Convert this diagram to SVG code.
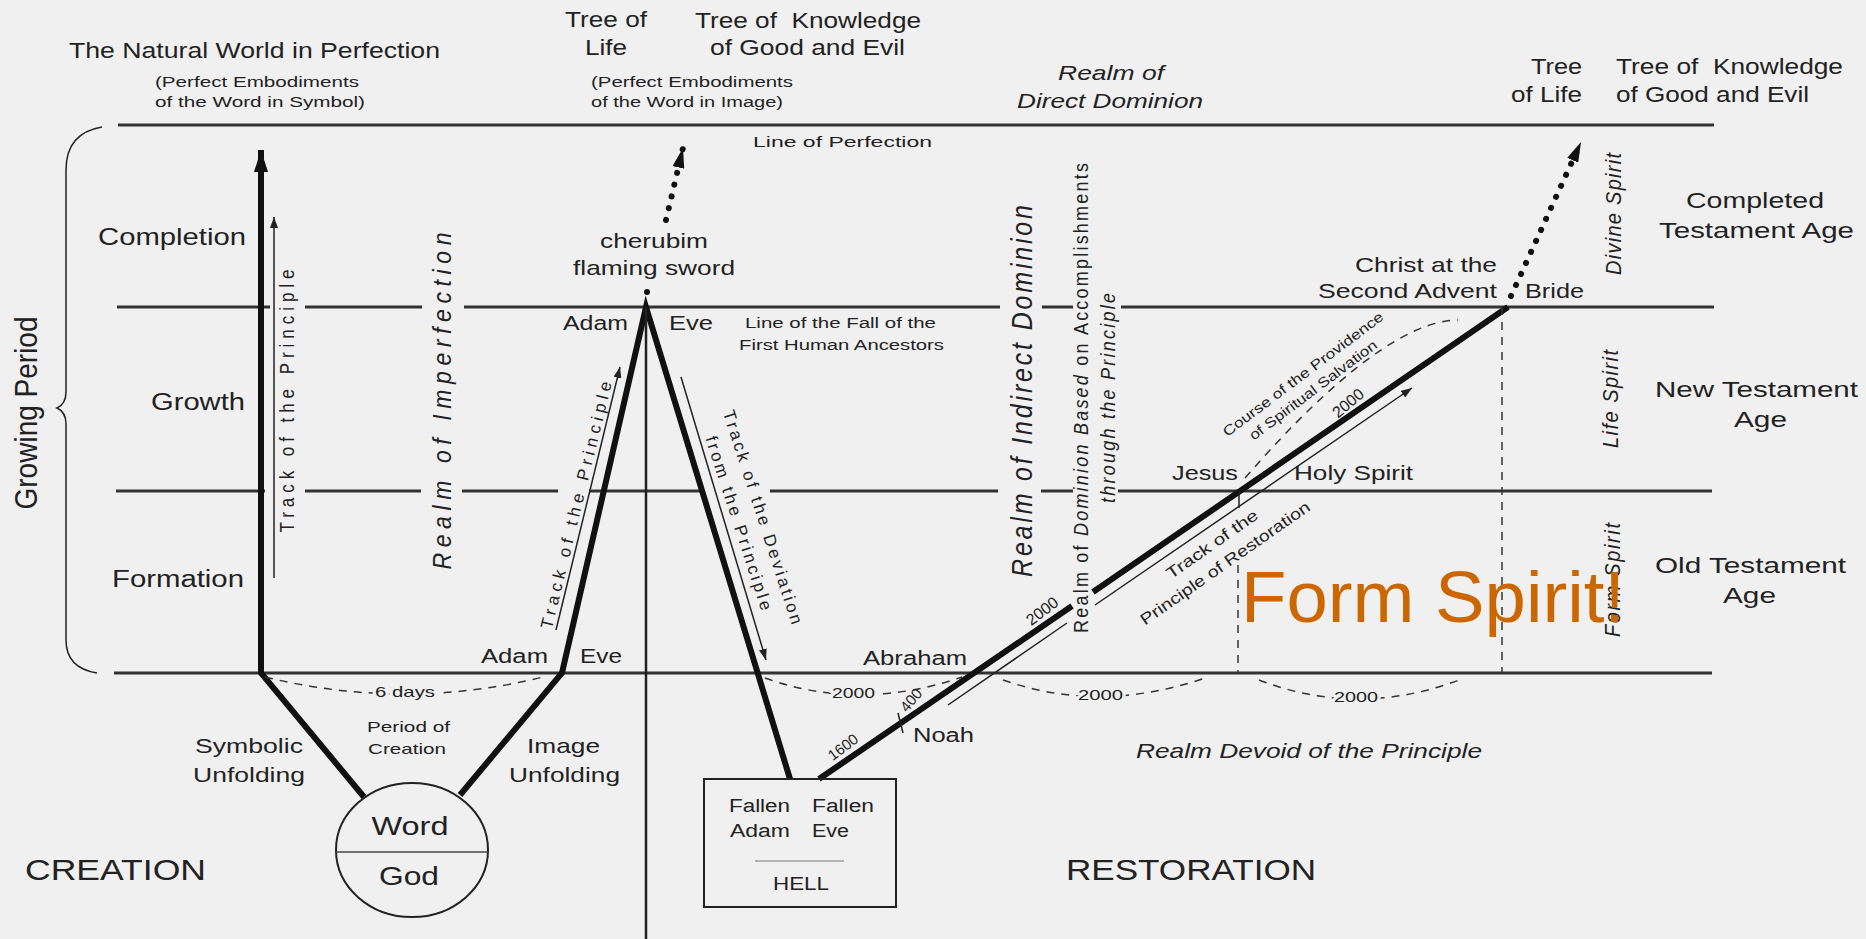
<svg xmlns="http://www.w3.org/2000/svg" width="1866" height="939" viewBox="0 0 1866 939">
<style>
.t{font-family:"Liberation Sans",Arial,Helvetica,sans-serif;fill:#222}
.i{font-style:italic}
.h{stroke:#333;stroke-width:3;fill:none}
.thick{stroke:#111;stroke-width:6;fill:none;stroke-linejoin:miter}
.thin{stroke:#222;stroke-width:1.5;fill:none}
.vline{stroke:#222;stroke-width:2.5;fill:none}
.dash{stroke:#333;stroke-width:1.5;fill:none;stroke-dasharray:8 7}
.dots{stroke:#111;stroke-width:6;stroke-linecap:round;stroke-dasharray:0.1 12;fill:none}
.mask{paint-order:stroke;stroke:#f0f0f0;stroke-width:5}
</style>
<defs>
<marker id="aThin" markerUnits="userSpaceOnUse" markerWidth="11" markerHeight="8" refX="11" refY="4" orient="auto"><path d="M0,0 L11,4 L0,8 z" fill="#222"/></marker>
<marker id="aBig" markerUnits="userSpaceOnUse" markerWidth="22" markerHeight="14" refX="22" refY="7" orient="auto"><path d="M0,0 L22,7 L0,14 z" fill="#111"/></marker>
<marker id="aDot" markerUnits="userSpaceOnUse" markerWidth="20" markerHeight="12" refX="20" refY="6" orient="auto"><path d="M0,0 L20,6 L0,12 z" fill="#111"/></marker>
</defs>
<rect width="1866" height="939" fill="#f0f0f0"/>

<g id="levels">
<path class="h" d="M118,125 H1714"/>
<path class="h" d="M117,307 H270 M305,307 H422 M464,307 H1000 M1042,307 H1073 M1121,307 H1714"/>
<path class="h" d="M116,491 H265 M305,491 H421 M462,491 H558 M589,491 H704 M770,491 H998 M1041,491 H1073 M1118,491 H1712"/>
<path class="h" d="M114,673 H1712"/>
<path class="thin" d="M102,127 Q66,133 66,170 L66,392 Q66,404 57,408 Q66,412 66,424 L66,640 Q66,668 97,673"/>
</g>

<g id="connectors">
<path class="thick" d="M364,797 L261,673 L261,150" marker-end="url(#aBig)"/>
<path class="thick" d="M460,795 L562,673 L646,307 L790,779"/>
<path class="thick" d="M819,779 L1072,606 M1093,592 L1508,307"/>
<path class="vline" d="M646,307 V939"/>
<path class="thin" d="M274,578 V217" marker-end="url(#aThin)"/>
<path class="thin" d="M556,630 L620,367" marker-end="url(#aThin)"/>
<path class="thin" d="M681,377 L766,660" marker-end="url(#aThin)"/>
<path class="thin" d="M948,705 L1067,623"/>
<path class="thin" d="M1095,605 L1412,388" marker-end="url(#aThin)"/>
<path class="dots" d="M647,292 L647,293"/>
<path class="dots" d="M666,220 L683,148" marker-end="url(#aDot)"/>
<path class="dots" d="M1511,296 L1581,142" marker-end="url(#aDot)"/>
<path class="dash" d="M265,677 Q405,711 543,677"/>
<path class="dash" d="M765,678 Q860,712 962,677"/>
<path class="dash" d="M1003,680 Q1100,714 1205,678"/>
<path class="dash" d="M1259,680 Q1358,718 1459,680"/>
<path class="dash" d="M1245,478 Q1382,321 1458,320"/>
<path class="dash" d="M1238,565 V673 M1502,307 V673"/>
<path class="thin" d="M1239,491 V508 M898,713 L903,733"/>
</g>

<g id="word-god">
<ellipse cx="412" cy="850" rx="76" ry="67" fill="none" stroke="#222" stroke-width="2"/>
<path d="M336,852 H488" stroke="#444" stroke-width="1.5"/>
<text class="t" x="410" y="835" font-size="25" text-anchor="middle" textLength="77" lengthAdjust="spacingAndGlyphs">Word</text>
<text class="t" x="409" y="885" font-size="25" text-anchor="middle" textLength="60" lengthAdjust="spacingAndGlyphs">God</text>
</g>

<g id="hell">
<rect x="704" y="779" width="192" height="128" fill="none" stroke="#222" stroke-width="2"/>
<path d="M755,861 H844" stroke="#777" stroke-width="1.2"/>
<text class="t" x="729" y="812" font-size="18" textLength="61" lengthAdjust="spacingAndGlyphs">Fallen</text>
<text class="t" x="812" y="812" font-size="18" textLength="62" lengthAdjust="spacingAndGlyphs">Fallen</text>
<text class="t" x="730" y="837" font-size="18" textLength="60" lengthAdjust="spacingAndGlyphs">Adam</text>
<text class="t" x="812" y="837" font-size="18" textLength="37" lengthAdjust="spacingAndGlyphs">Eve</text>
<text class="t" x="773" y="890" font-size="18" textLength="56" lengthAdjust="spacingAndGlyphs">HELL</text>
</g>

<g id="labels">
<text class="t" x="69" y="58" font-size="22" textLength="371" lengthAdjust="spacingAndGlyphs">The Natural World in Perfection</text>
<text class="t" x="155" y="87" font-size="14" textLength="204" lengthAdjust="spacingAndGlyphs">(Perfect Embodiments</text>
<text class="t" x="155" y="107" font-size="14" textLength="210" lengthAdjust="spacingAndGlyphs">of the Word in Symbol)</text>
<text class="t" x="565" y="27" font-size="22" textLength="82" lengthAdjust="spacingAndGlyphs">Tree of</text>
<text class="t" x="585" y="55" font-size="22" textLength="42" lengthAdjust="spacingAndGlyphs">Life</text>
<text class="t" x="695" y="28" font-size="22" textLength="226" lengthAdjust="spacingAndGlyphs" xml:space="preserve">Tree of  Knowledge</text>
<text class="t" x="710" y="55" font-size="22" textLength="195" lengthAdjust="spacingAndGlyphs">of Good and Evil</text>
<text class="t" x="591" y="87" font-size="14" textLength="202" lengthAdjust="spacingAndGlyphs">(Perfect Embodiments</text>
<text class="t" x="591" y="107" font-size="14" textLength="192" lengthAdjust="spacingAndGlyphs">of the Word in Image)</text>
<text class="t i" x="1058" y="80" font-size="21" textLength="106" lengthAdjust="spacingAndGlyphs">Realm of</text>
<text class="t i" x="1017" y="108" font-size="21" textLength="186" lengthAdjust="spacingAndGlyphs">Direct Dominion</text>
<text class="t" x="1531" y="74" font-size="22" textLength="51" lengthAdjust="spacingAndGlyphs">Tree</text>
<text class="t" x="1511" y="102" font-size="22" textLength="71" lengthAdjust="spacingAndGlyphs">of Life</text>
<text class="t" x="1616" y="74" font-size="22" textLength="227" lengthAdjust="spacingAndGlyphs" xml:space="preserve">Tree of  Knowledge</text>
<text class="t" x="1616" y="102" font-size="22" textLength="193" lengthAdjust="spacingAndGlyphs">of Good and Evil</text>
<text class="t" x="753" y="147" font-size="14" textLength="179" lengthAdjust="spacingAndGlyphs">Line of Perfection</text>
<text class="t" x="98" y="245" font-size="24" textLength="148" lengthAdjust="spacingAndGlyphs">Completion</text>
<text class="t" x="600" y="248" font-size="21" textLength="108" lengthAdjust="spacingAndGlyphs">cherubim</text>
<text class="t" x="573" y="275" font-size="21" textLength="162" lengthAdjust="spacingAndGlyphs">flaming sword</text>
<text class="t" x="1686" y="208" font-size="22" textLength="138" lengthAdjust="spacingAndGlyphs">Completed</text>
<text class="t" x="1659" y="238" font-size="22" textLength="195" lengthAdjust="spacingAndGlyphs">Testament Age</text>
<text class="t" x="1355" y="272" font-size="21" textLength="142" lengthAdjust="spacingAndGlyphs">Christ at the</text>
<text class="t" x="1318" y="298" font-size="21" textLength="179" lengthAdjust="spacingAndGlyphs">Second Advent</text>
<text class="t" x="1525" y="298" font-size="21" textLength="59" lengthAdjust="spacingAndGlyphs">Bride</text>
<text class="t" x="563" y="330" font-size="20" textLength="65" lengthAdjust="spacingAndGlyphs">Adam</text>
<text class="t" x="669" y="330" font-size="20" textLength="44" lengthAdjust="spacingAndGlyphs">Eve</text>
<text class="t" x="745" y="328" font-size="14" textLength="191" lengthAdjust="spacingAndGlyphs">Line of the Fall of the</text>
<text class="t" x="739" y="350" font-size="14" textLength="205" lengthAdjust="spacingAndGlyphs">First Human Ancestors</text>
<text class="t" x="151" y="410" font-size="23" textLength="94" lengthAdjust="spacingAndGlyphs">Growth</text>
<text class="t" x="1655" y="397" font-size="22" textLength="203" lengthAdjust="spacingAndGlyphs">New Testament</text>
<text class="t" x="1734" y="427" font-size="22" textLength="53" lengthAdjust="spacingAndGlyphs">Age</text>
<text class="t" x="1172" y="480" font-size="21" textLength="66" lengthAdjust="spacingAndGlyphs">Jesus</text>
<text class="t" x="1294" y="480" font-size="21" textLength="119" lengthAdjust="spacingAndGlyphs">Holy Spirit</text>
<text class="t" x="1655" y="573" font-size="22" textLength="191" lengthAdjust="spacingAndGlyphs">Old Testament</text>
<text class="t" x="1723" y="603" font-size="22" textLength="53" lengthAdjust="spacingAndGlyphs">Age</text>
<text class="t" x="112" y="587" font-size="23" textLength="132" lengthAdjust="spacingAndGlyphs">Formation</text>
<text class="t" x="481" y="663" font-size="20" textLength="67" lengthAdjust="spacingAndGlyphs">Adam</text>
<text class="t" x="580" y="663" font-size="20" textLength="42" lengthAdjust="spacingAndGlyphs">Eve</text>
<text class="t" x="863" y="665" font-size="20" textLength="104" lengthAdjust="spacingAndGlyphs">Abraham</text>
<text class="t mask" x="405" y="697" font-size="15" text-anchor="middle" textLength="60" lengthAdjust="spacingAndGlyphs">6 days</text>
<text class="t mask" x="832" y="698" font-size="15" textLength="43" lengthAdjust="spacingAndGlyphs">2000</text>
<text class="t mask" x="1078" y="700" font-size="15" textLength="45" lengthAdjust="spacingAndGlyphs">2000</text>
<text class="t mask" x="1334" y="702" font-size="15" textLength="44" lengthAdjust="spacingAndGlyphs">2000</text>
<text class="t" x="367" y="732" font-size="15" textLength="83" lengthAdjust="spacingAndGlyphs">Period of</text>
<text class="t" x="368" y="754" font-size="15" textLength="78" lengthAdjust="spacingAndGlyphs">Creation</text>
<text class="t" x="195" y="753" font-size="21" textLength="108" lengthAdjust="spacingAndGlyphs">Symbolic</text>
<text class="t" x="193" y="782" font-size="21" textLength="112" lengthAdjust="spacingAndGlyphs">Unfolding</text>
<text class="t" x="527" y="753" font-size="21" textLength="73" lengthAdjust="spacingAndGlyphs">Image</text>
<text class="t" x="509" y="782" font-size="21" textLength="111" lengthAdjust="spacingAndGlyphs">Unfolding</text>
<text class="t" x="913" y="742" font-size="20" textLength="61" lengthAdjust="spacingAndGlyphs">Noah</text>
<text class="t i" x="1136" y="758" font-size="21" textLength="346" lengthAdjust="spacingAndGlyphs">Realm Devoid of the Principle</text>
<text class="t" x="25" y="880" font-size="29" textLength="181" lengthAdjust="spacingAndGlyphs">CREATION</text>
<text class="t" x="1066" y="880" font-size="29" textLength="250" lengthAdjust="spacingAndGlyphs">RESTORATION</text>

<text class="t" transform="translate(37,413) rotate(-90) scale(1,1.12)" font-size="28" text-anchor="middle" textLength="193">Growing Period</text>
<text class="t" transform="translate(294,401) rotate(-90) scale(1,1.15)" font-size="17" text-anchor="middle" textLength="263" lengthAdjust="spacing">Track of the Principle</text>
<text class="t i" transform="translate(451,401) rotate(-90) scale(1,1.15)" font-size="23" text-anchor="middle" textLength="337" lengthAdjust="spacing">Realm of Imperfection</text>
<text class="t" transform="translate(576,505) rotate(-76.3)" font-size="17" text-anchor="middle" dy="0.35em" textLength="254" lengthAdjust="spacing">Track of the Principle</text>
<text class="t" transform="translate(763,517) rotate(72)" font-size="17" text-anchor="middle" dy="0.35em" textLength="224" lengthAdjust="spacing">Track of the Deviation</text>
<text class="t" transform="translate(739,523) rotate(72)" font-size="17" text-anchor="middle" dy="0.35em" textLength="182" lengthAdjust="spacing">from the Principle</text>
<text class="t i" transform="translate(1032,391) rotate(-90) scale(1,1.15)" font-size="25" text-anchor="middle" textLength="372" lengthAdjust="spacing">Realm of Indirect Dominion</text>
<text class="t" transform="translate(1088,398) rotate(-90) scale(1,1.12)" font-size="18" text-anchor="middle" textLength="470" lengthAdjust="spacing">Realm of <tspan class="i">Dominion Based</tspan> on Accomplishments</text>
<text class="t i" transform="translate(1115,398) rotate(-90) scale(1,1.12)" font-size="18" text-anchor="middle" textLength="210" lengthAdjust="spacing">through the Principle</text>
<text class="t i" transform="translate(1621,214) rotate(-90) scale(1,1.12)" font-size="20" text-anchor="middle" textLength="122" lengthAdjust="spacing">Divine Spirit</text>
<text class="t i" transform="translate(1618,399) rotate(-90) scale(1,1.12)" font-size="20" text-anchor="middle" textLength="98" lengthAdjust="spacing">Life Spirit</text>
<text class="t i" transform="translate(1620,580) rotate(-90) scale(1,1.12)" font-size="20" text-anchor="middle" textLength="114" lengthAdjust="spacing">Form Spirit</text>
<text class="t" transform="translate(1212,544) rotate(-35)" font-size="16" text-anchor="middle" dy="0.35em" textLength="108" lengthAdjust="spacingAndGlyphs">Track of the</text>
<text class="t" transform="translate(1225,563) rotate(-35)" font-size="16" text-anchor="middle" dy="0.35em" textLength="203" lengthAdjust="spacingAndGlyphs">Principle of Restoration</text>
<text class="t" transform="translate(1303,374) rotate(-37)" font-size="14" text-anchor="middle" dy="0.35em" textLength="197" lengthAdjust="spacingAndGlyphs">Course of the Providence</text>
<text class="t" transform="translate(1313,390) rotate(-37)" font-size="14" text-anchor="middle" dy="0.35em" textLength="156" lengthAdjust="spacingAndGlyphs">of Spiritual Salvation</text>
<text class="t" transform="translate(1348,403) rotate(-40)" font-size="16" text-anchor="middle" dy="0.35em">2000</text>
<text class="t" transform="translate(1042,611) rotate(-37)" font-size="16" text-anchor="middle" dy="0.35em">2000</text>
<text class="t" transform="translate(843,747) rotate(-37)" font-size="15" text-anchor="middle" dy="0.35em">1600</text>
<text class="t" transform="translate(911,700) rotate(-50)" font-size="15" text-anchor="middle" dy="0.35em">400</text>

<text x="1241" y="622" font-family="Liberation Sans, Arial, sans-serif" font-size="72" fill="#cc6600" textLength="384" lengthAdjust="spacingAndGlyphs">Form Spirit!</text>
</g>
</svg>
